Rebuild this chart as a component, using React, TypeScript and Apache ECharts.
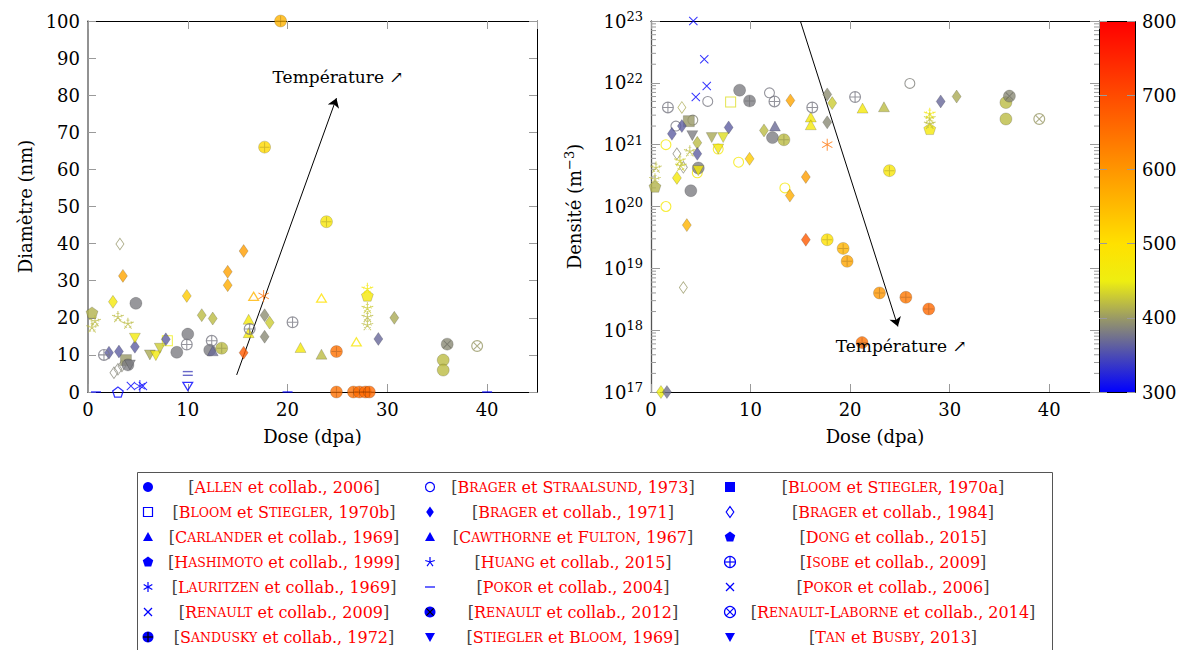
import React, { useEffect, useRef } from "react";
import * as echarts from "echarts";

const FONT = "DejaVu Serif";
type Pt = [number, number, number]; // [dose (dpa), value, temperature (°C)]

// ---------- colour scale (temperature, °C) ----------
const tempMin = 300;
const tempMax = 800;
const tempTicks = [300, 400, 500, 600, 700, 800];
const tempColors = ["#0000ff", "#4b4bb4", "#999966", "#eeee11", "#ffe100", "#ffbb00", "#ff9600", "#ff7000", "#ff4b00", "#ff2500", "#ff0000"];

// ---------- axes ----------
const doseMin = 0, doseMax = 45, doseStep = 10;
const diamMin = 0, diamMax = 100, diamStep = 10;
const densExpMin = 17, densExpMax = 23;

// ---------- Diameter panel (nm) ----------
const allenDiam: Pt[] = [[4.8, 23.9, 382], [10.0, 15.6, 382], [8.9, 10.7, 382], [12.2, 11.3, 382], [4.0, 7.3, 382], [35.6, 8.6, 420], [35.6, 5.9, 420]];
const renault2012Diam: Pt[] = [[36.0, 12.9, 390]];
const renaultLaborneDiam: Pt[] = [[39.0, 12.4, 400]];
const brager1971Diam: Pt[] = [[3.5, 31.3, 580], [2.5, 24.3, 470], [15.6, 38.0, 590], [14.0, 32.4, 585], [14.0, 28.8, 570], [9.9, 25.9, 530], [11.4, 20.7, 420], [12.5, 19.8, 420], [17.7, 20.7, 392], [18.2, 18.7, 430], [17.7, 14.9, 390], [15.6, 10.6, 680], [7.8, 14.2, 362], [4.7, 12.2, 362], [2.1, 10.6, 362], [3.1, 10.9, 362], [30.7, 20.0, 410], [29.1, 14.3, 368]];
const brager1984Diam: Pt[] = [[3.2, 39.9, 398], [2.6, 5.2, 388], [3.0, 6.1, 388], [3.4, 7.0, 388]];
const isobeDiam: Pt[] = [[16.2, 17.0, 380], [20.5, 18.8, 380], [9.9, 12.8, 380], [12.4, 13.8, 380], [1.6, 10.0, 380]];
const sanduskyDiam: Pt[] = [[19.3, 100, 560], [17.7, 66.0, 510], [23.9, 45.9, 480], [13.4, 11.8, 420], [24.9, 10.9, 650], [24.9, 0, 650], [26.6, 0, 650], [27.2, 0, 655], [27.8, 0, 660], [28.2, 0, 660]];
const triangleDiam: Pt[] = [[16.1, 16.0, 470], [16.1, 19.6, 470], [21.3, 12.0, 470], [12.5, 11.1, 370], [23.4, 10.2, 420]];
const openTriangleDiam: Pt[] = [[16.6, 25.9, 560], [23.4, 25.4, 500], [26.9, 13.6, 480]];
const openTriangleDownDiam: Pt[] = [[10.0, 1.4, 300]];
const triangleDownDiam: Pt[] = [[4.7, 14.5, 465], [6.2, 10.0, 410], [6.8, 9.8, 465], [7.2, 11.8, 430], [4.2, 7.3, 382]];
const bloomADiam: Pt[] = [[3.8, 8.6, 400]];
const bloomBDiam: Pt[] = [[7.95, 13.8, 450]];
const dongDiam: Pt[] = [[0.4, 21.4, 415], [28.0, 26.0, 470]];
const hashimotoDiam: Pt[] = [[3.0, 0, 300]];
const huangDiam: Pt[] = [[0.4, 17.5, 420], [0.7, 19.2, 420], [3.0, 20.3, 420], [4.0, 18.5, 420], [28.0, 27.9, 470], [28.0, 22.7, 430], [28.0, 20.3, 420], [28.0, 18.1, 420]];
const lauritzenDiam: Pt[] = [[17.6, 25.9, 650], [5.2, 1.6, 300]];
const crossDiam: Pt[] = [[4.3, 1.6, 300], [5.5, 1.6, 300]];
const pokor2004Diam: Pt[] = [[0.8, 0, 300], [20.0, 0, 300], [40.0, 0, 300], [10.0, 4.5, 345], [10.0, 5.5, 345]];

// ---------- Density panel (m^-3) ----------
const allenDens: Pt[] = [[8.9, 7.6e21, 382], [12.2, 1.3e21, 382], [4.75, 4.2e20, 382], [4.0, 1.8e20, 382], [35.65, 4.8e21, 420], [35.65, 2.6e21, 420]];
const renault2012Dens: Pt[] = [[36.0, 6.1e21, 390]];
const renaultLaborneDens: Pt[] = [[39.0, 2.6e21, 400]];
const bragerStraalsundDens: Pt[] = [[5.7, 5.0e21, 380], [11.9, 6.9e21, 380], [2.5, 2.0e21, 380], [4.2, 2.5e21, 388], [26.0, 9.8e21, 385], [1.5, 1.0e21, 470], [1.5, 1.0e20, 470], [8.8, 5.2e20, 470], [4.65, 3.5e20, 470], [13.45, 2.0e20, 470], [6.75, 8.5e20, 470]];
const bloomBDens: Pt[] = [[8.0, 4.9e21, 440]];
const bloomADens: Pt[] = [[3.8, 2.4e21, 400]];
const sanduskyDens: Pt[] = [[9.9, 5.1e21, 382], [13.35, 1.2e21, 420], [23.95, 3.8e20, 480], [17.7, 2.9e19, 500], [19.3, 2.1e19, 560], [19.7, 1.3e19, 580], [22.95, 4.0e18, 600], [25.6, 3.4e18, 640], [27.9, 2.2e18, 660], [21.2, 6.3e17, 650]];
const isobeDens: Pt[] = [[12.4, 5.0e21, 380], [16.2, 4.0e21, 380], [20.5, 5.9e21, 380], [1.7, 4.0e21, 380]];
const brager1971Dens: Pt[] = [[14.0, 5.2e21, 580], [17.7, 6.5e21, 392], [18.2, 4.7e21, 430], [17.7, 2.3e21, 390], [3.1, 2.0e21, 362], [2.1, 1.5e21, 362], [7.8, 1.9e21, 362], [11.35, 1.7e21, 420], [4.65, 1.07e21, 420], [4.65, 7.1e20, 362], [2.6, 2.9e20, 470], [9.9, 5.9e20, 530], [15.55, 3.0e20, 590], [13.95, 1.5e20, 570], [3.6, 5.0e19, 560], [15.55, 2.9e19, 680], [1.0, 1e17, 450], [1.6, 1e17, 375], [29.1, 5.0e21, 368], [30.7, 6.0e21, 410]];
const brager1984Dens: Pt[] = [[3.1, 4.0e21, 410], [2.6, 7.1e20, 388], [3.25, 4.3e20, 388], [3.25, 4.9e18, 400]];
const triangleDens: Pt[] = [[21.25, 3.9e21, 470], [16.05, 2.8e21, 470], [16.05, 2.1e21, 470], [12.45, 2.0e21, 370], [23.4, 4.1e21, 420]];
const triangleDownDens: Pt[] = [[4.15, 1.4e21, 382], [6.1, 1.3e21, 410], [7.25, 1.3e21, 440], [6.75, 8.5e20, 470], [4.75, 3.8e20, 470]];
const huangDens: Pt[] = [[3.9, 7.9e20, 420], [2.9, 5.6e20, 430], [3.0, 4.6e20, 430], [0.5, 4.3e20, 420], [0.4, 2.8e20, 420], [28.0, 3.2e21, 470], [28.0, 2.7e21, 430], [28.0, 2.2e21, 420]];
const dongDens: Pt[] = [[0.4, 2.1e20, 415], [28.0, 1.8e21, 470]];
const lauritzenDens: Pt[] = [[17.7, 1.0e21, 650]];
const crossDens: Pt[] = [[4.25, 1e23, 300], [5.35, 2.4e22, 300], [5.6, 8.9e21, 300], [4.5, 5.9e21, 300]];

// ---------- annotations ----------
const arrowDiam = [[14.9, 4.6], [24.9, 79.2]];
const arrowDens = [[15.0, 1e23], [24.8, 1.15e18]];
const labelDiam = [18.45, 84.9];
const labelDens = [18.5, 5.5e17];
const annotationText = "Température ↗";

// ---------- legend ----------
const legendAuthors = [
  ["Allen", "Bloom et Stiegler", "Carlander", "Hashimoto", "Lauritzen", "Renault", "Sandusky"],
  ["Brager et Straalsund", "Brager", "Cawthorne et Fulton", "Huang", "Pokor", "Renault", "Stiegler et Bloom"],
  ["Bloom et Stiegler", "Brager", "Dong", "Isobe", "Pokor", "Renault-Laborne", "Tan et Busby"],
];
const legendSuffix = [
  [" et collab., 2006", ", 1970b", " et collab., 1969", " et collab., 1999", " et collab., 1969", " et collab., 2009", " et collab., 1972"],
  [", 1973", " et collab., 1971", ", 1967", " et collab., 2015", " et collab., 2004", " et collab., 2012", ", 1969"],
  [", 1970a", " et collab., 1984", " et collab., 2015", " et collab., 2009", " et collab., 2006", " et collab., 2014", ", 2013"],
];
const legendIcons = [
  ["circle", "emptyRect", "triangle", "pentagon", "asterisk", "cross", "oplusFilled"],
  ["emptyCircle", "diamond", "triangle", "star", "dash", "otimesFilled", "triangleDown"],
  ["rect", "emptyDiamond", "pentagon", "oplusOpen", "cross", "otimesOpen", "triangleDown"],
];

// ---------- symbol paths ----------
function poly(pts: number[][]) {
  return "M" + pts.map((p) => p[0].toFixed(3) + "," + p[1].toFixed(3)).join("L") + "Z";
}
function regularPts(n: number, r: number, start: number) {
  const out: number[][] = [];
  for (let i = 0; i < n; i++) {
    const a = ((start + (360 / n) * i) * Math.PI) / 180;
    out.push([r * Math.cos(a), r * Math.sin(a)]);
  }
  return out;
}
function ring(pts: number[][], k: number) {
  const inner = pts.map(([x, y]) => [x * k, y * k]).reverse();
  return poly(pts) + poly(inner);
}
function bars(segs: number[][], w: number) {
  return segs
    .map(([x1, y1, x2, y2]) => {
      const dx = x2 - x1, dy = y2 - y1, L = Math.hypot(dx, dy);
      const nx = (-dy / L) * (w / 2), ny = (dx / L) * (w / 2);
      return poly([[x1 + nx, y1 + ny], [x2 + nx, y2 + ny], [x2 - nx, y2 - ny], [x1 - nx, y1 - ny]]);
    })
    .join("");
}
const circleRing = (r: number, ri: number) =>
  `M${-r},0A${r},${r} 0 1,0 ${r},0A${r},${r} 0 1,0 ${-r},0Z` +
  `M${-ri},0A${ri},${ri} 0 1,1 ${ri},0A${ri},${ri} 0 1,1 ${-ri},0Z`;

const SYM_OPEN_CIRCLE = "path://" + circleRing(10, 8);
const SYM_OPLUS_OPEN = "path://" + circleRing(10, 8) + bars([[-8.5, 0, 8.5, 0], [0, -8.5, 0, 8.5]], 1.8);
const SYM_OTIMES_OPEN = "path://" + circleRing(10, 8) + bars([[-6, -6, 6, 6], [-6, 6, 6, -6]], 1.8);
const SYM_PLUS = "path://" + bars([[-10, 0, 10, 0], [0, -10, 0, 10]], 2);
const SYM_TIMES = "path://" + bars([[-10, -10, 10, 10], [-10, 10, 10, -10]], 2.4);
const SYM_CROSS = "path://" + bars([[-10, -10, 10, 10], [-10, 10, 10, -10]], 2.4);
const SYM_OPEN_TRI = "path://" + ring(regularPts(3, 10, -90), 0.62);
const SYM_OPEN_DIAMOND = "path://" + ring([[0, -10], [7, 0], [0, 10], [-7, 0]], 0.78);
const SYM_OPEN_SQUARE = "path://" + ring([[-10, -10], [10, -10], [10, 10], [-10, 10]], 0.82);
const SYM_PENTAGON = "path://" + poly(regularPts(5, 10, -90));
const SYM_OPEN_PENTAGON = "path://" + ring(regularPts(5, 10, -90), 0.75);
const SYM_ASTERISK = "path://" + bars([0, 60, 120].map((a) => {
  const r = (a * Math.PI) / 180 + Math.PI / 2;
  return [-10 * Math.cos(r), -10 * Math.sin(r), 10 * Math.cos(r), 10 * Math.sin(r)];
}), 1.6);
const SYM_STAR = "path://" + bars(regularPts(5, 10, -90).map(([x, y]) => [0, 0, x, y]), 1.6) +
  bars(regularPts(5, 10, -90).map(([x, y]) => [x * 0.6 - y * 0.25, y * 0.6 + x * 0.25, x * 0.6 + y * 0.25, y * 0.6 - x * 0.25]), 1.2);

// ---------- series ----------
const series: any[] = [];
const vmSeries: number[] = [];
const FILLED_STYLE = { borderColor: "rgba(0,0,0,0.3)", borderWidth: 0.7 };

function addScatter(data: any[], panel: number, symbol: string, size: any, extra: any = {}, inVM = true) {
  if (!data.length) return;
  if (inVM) vmSeries.push(series.length);
  series.push({
    type: "scatter",
    xAxisIndex: panel === 0 ? 0 : 2,
    yAxisIndex: panel === 0 ? 0 : 2,
    data,
    symbol,
    symbolSize: size,
    clip: false,
    silent: true,
    ...extra,
  });
}

function addAll(panel: number, d: any) {
  addScatter(d.pokor2004, panel, "rect", [10, 1.4], { itemStyle: {} });
  addScatter(d.brager1984, panel, SYM_OPEN_DIAMOND, [9, 13]);
  addScatter(d.bragerStraalsund, panel, SYM_OPEN_CIRCLE, 11);
  addScatter(d.bloomB, panel, SYM_OPEN_SQUARE, 11);
  addScatter(d.bloomA, panel, "rect", 11, { itemStyle: FILLED_STYLE });
  addScatter(d.allen, panel, "circle", 12, { itemStyle: FILLED_STYLE });
  addScatter(d.renault2012, panel, "circle", 12, { itemStyle: FILLED_STYLE });
  addScatter(d.renault2012, panel, SYM_TIMES, 8, { itemStyle: { color: "rgba(0,0,0,0.3)" } }, false);
  addScatter(d.renaultLaborne, panel, SYM_OTIMES_OPEN, 12);
  addScatter(d.brager1971, panel, "diamond", [9, 13], { itemStyle: FILLED_STYLE });
  addScatter(d.triangle, panel, "triangle", [11, 10], { itemStyle: FILLED_STYLE });
  addScatter(d.triangleDown, panel, "triangle", [11, 10], { symbolRotate: 180, itemStyle: FILLED_STYLE });
  addScatter(d.openTriangle, panel, SYM_OPEN_TRI, [12, 10]);
  addScatter(d.openTriangleDown, panel, SYM_OPEN_TRI, [12, 10], { symbolRotate: 180 });
  addScatter(d.dong, panel, SYM_PENTAGON, 12, { symbolKeepAspect: true, itemStyle: FILLED_STYLE });
  addScatter(d.hashimoto, panel, SYM_OPEN_PENTAGON, 12, { symbolKeepAspect: true });
  addScatter(d.huang, panel, SYM_STAR, 12, { symbolKeepAspect: true });
  addScatter(d.lauritzen, panel, SYM_ASTERISK, 12, { symbolKeepAspect: true });
  addScatter(d.cross, panel, SYM_CROSS, 9, { symbolKeepAspect: true });
  addScatter(d.isobe, panel, SYM_OPLUS_OPEN, 12);
  addScatter(d.sandusky, panel, "circle", 12, { itemStyle: FILLED_STYLE });
  addScatter(d.sandusky, panel, SYM_PLUS, 10, { itemStyle: { color: "rgba(0,0,0,0.22)" } }, false);
}

addAll(0, {
  pokor2004: pokor2004Diam, brager1984: brager1984Diam, bragerStraalsund: [], bloomB: bloomBDiam, bloomA: bloomADiam,
  allen: allenDiam, renault2012: renault2012Diam, renaultLaborne: renaultLaborneDiam, brager1971: brager1971Diam,
  triangle: triangleDiam, triangleDown: triangleDownDiam, openTriangle: openTriangleDiam, openTriangleDown: openTriangleDownDiam,
  dong: dongDiam, hashimoto: hashimotoDiam, huang: huangDiam, lauritzen: lauritzenDiam, cross: crossDiam,
  isobe: isobeDiam, sandusky: sanduskyDiam,
});
addAll(1, {
  pokor2004: [], brager1984: brager1984Dens, bragerStraalsund: bragerStraalsundDens, bloomB: bloomBDens, bloomA: bloomADens,
  allen: allenDens, renault2012: renault2012Dens, renaultLaborne: renaultLaborneDens, brager1971: brager1971Dens,
  triangle: triangleDens, triangleDown: triangleDownDens, openTriangle: [], openTriangleDown: [],
  dong: dongDens, hashimoto: [], huang: huangDens, lauritzen: lauritzenDens, cross: crossDens,
  isobe: isobeDens, sandusky: sanduskyDens,
});

// arrows
series.push({
  type: "lines", coordinateSystem: "cartesian2d", xAxisIndex: 0, yAxisIndex: 0, silent: true,
  symbol: ["none", "arrow"], symbolSize: 9,
  lineStyle: { color: "#000", width: 1, opacity: 1 },
  data: [{ coords: arrowDiam }],
});
series.push({
  type: "lines", coordinateSystem: "cartesian2d", xAxisIndex: 2, yAxisIndex: 2, silent: true,
  symbol: ["none", "arrow"], symbolSize: 9,
  lineStyle: { color: "#000", width: 1, opacity: 1 },
  data: [{ coords: arrowDens }],
});
// annotation texts
[[0, labelDiam], [2, labelDens]].forEach(([ax, pt]: any) => {
  series.push({
    type: "scatter", xAxisIndex: ax, yAxisIndex: ax, silent: true, clip: false, z: 10,
    data: [pt], symbol: "circle", symbolSize: 1, itemStyle: { color: "rgba(0,0,0,0)" },
    label: { show: true, position: "right", distance: 0, formatter: annotationText, fontFamily: FONT, fontSize: 17, color: "#000", opacity: 1 },
  });
});
// log minor ticks (2..9 × 10^n) on both sides of the density panel
const minorTickVals: number[][] = [];
for (let e = densExpMin; e < densExpMax; e++) for (let m = 2; m <= 9; m++) minorTickVals.push([doseMin, m * Math.pow(10, e)]);
series.push({
  type: "custom", xAxisIndex: 2, yAxisIndex: 2, silent: true, clip: false, data: minorTickVals,
  renderItem: (params: any, api: any) => {
    const v = api.value(1);
    const p = api.coord([doseMin, v]);
    const q = api.coord([doseMax, v]);
    return {
      type: "group",
      children: [
        { type: "line", shape: { x1: p[0], y1: p[1], x2: p[0] + 5, y2: p[1] }, style: { stroke: "#9a9a9a", lineWidth: 1 } },
        { type: "line", shape: { x1: q[0] - 5, y1: q[1], x2: q[0], y2: q[1] }, style: { stroke: "#9a9a9a", lineWidth: 1 } },
      ],
    };
  },
});

// ---------- axis helpers ----------
const labelStyle = { fontFamily: FONT, fontSize: 18, color: "#000" };
const tickStyle = { inside: true, length: 8, lineStyle: { color: "#9a9a9a", width: 1 } };
const lineStyle = { show: true, lineStyle: { color: "#000", width: 1 } };

function doseAxis(grid: number, pos: string, labels: boolean) {
  return {
    type: "value", gridIndex: grid, position: pos, min: doseMin, max: doseMax, interval: doseStep,
    axisLine: { ...lineStyle, onZero: false }, axisTick: tickStyle, splitLine: { show: false },
    axisLabel: { show: labels, ...labelStyle, margin: 8, showMaxLabel: false },
    name: labels ? "Dose (dpa)" : "", nameLocation: "middle", nameGap: 35,
    nameTextStyle: { fontFamily: FONT, fontSize: 18, color: "#000" },
  };
}

// ---------- legend graphics ----------
const BLUE = "#0000ff";
function icon(kind: string, x: number, y: number): any[] {
  const f = { fill: BLUE };
  const st = { stroke: BLUE, fill: "none", lineWidth: 1.2 };
  const ln = (x1: number, y1: number, x2: number, y2: number, c = BLUE) => ({ type: "line", shape: { x1, y1, x2, y2 }, style: { stroke: c, lineWidth: 1.2 } });
  const pg = (pts: number[][], style: any) => ({ type: "polygon", shape: { points: pts }, style });
  switch (kind) {
    case "circle": return [{ type: "circle", shape: { cx: x, cy: y, r: 5 }, style: f }];
    case "emptyCircle": return [{ type: "circle", shape: { cx: x, cy: y, r: 4.5 }, style: st }];
    case "rect": return [{ type: "rect", shape: { x: x - 5, y: y - 5, width: 10, height: 10 }, style: f }];
    case "emptyRect": return [{ type: "rect", shape: { x: x - 4.5, y: y - 4.5, width: 9, height: 9 }, style: st }];
    case "diamond": return [pg([[x, y - 5.5], [x + 3.8, y], [x, y + 5.5], [x - 3.8, y]], f)];
    case "emptyDiamond": return [pg([[x, y - 5.5], [x + 3.8, y], [x, y + 5.5], [x - 3.8, y]], st)];
    case "triangle": return [pg([[x, y - 5], [x + 5, y + 4], [x - 5, y + 4]], f)];
    case "triangleDown": return [pg([[x - 5, y - 4], [x + 5, y - 4], [x, y + 5]], f)];
    case "pentagon": return [pg(regularPts(5, 5.5, -90).map(([a, b]) => [x + a, y + b]), f)];
    case "asterisk": return [0, 60, 120].map((a) => {
      const r = (a * Math.PI) / 180 + Math.PI / 2;
      return ln(x - 5 * Math.cos(r), y - 5 * Math.sin(r), x + 5 * Math.cos(r), y + 5 * Math.sin(r));
    });
    case "star": return regularPts(5, 5, -90).map(([a, b]) => ln(x, y, x + a, y + b));
    case "cross": return [ln(x - 4, y - 4, x + 4, y + 4), ln(x - 4, y + 4, x + 4, y - 4)];
    case "dash": return [ln(x - 5, y, x + 5, y)];
    case "oplusFilled": return [{ type: "circle", shape: { cx: x, cy: y, r: 5.5 }, style: f }, ln(x - 5, y, x + 5, y, "#000"), ln(x, y - 5, x, y + 5, "#000")];
    case "otimesFilled": return [{ type: "circle", shape: { cx: x, cy: y, r: 5.5 }, style: f }, ln(x - 3.6, y - 3.6, x + 3.6, y + 3.6, "#000"), ln(x - 3.6, y + 3.6, x + 3.6, y - 3.6, "#000")];
    case "oplusOpen": return [{ type: "circle", shape: { cx: x, cy: y, r: 5.5 }, style: st }, ln(x - 5.5, y, x + 5.5, y), ln(x, y - 5.5, x, y + 5.5)];
    case "otimesOpen": return [{ type: "circle", shape: { cx: x, cy: y, r: 5.5 }, style: st }, ln(x - 3.9, y - 3.9, x + 3.9, y + 3.9), ln(x - 3.9, y + 3.9, x + 3.9, y - 3.9)];
  }
  return [];
}
function smallCaps(author: string) {
  return author
    .split(" ")
    .map((w) => (w === "et" ? "{c| et }" : w.split("-").map((p) => `{c|${p[0]}}{s|${p.slice(1).toUpperCase()}}`).join("{c|-}")))
    .join("");
}
const legendIconX = [148, 430, 730];
const legendTextX = [284, 573, 893];
const legendRowY0 = 487, legendRowStep = 25;
const legendRich = {
  b: { fontFamily: FONT, fontSize: 16, color: "#444", lineHeight: 20 },
  c: { fontFamily: FONT, fontSize: 16, color: "#ff0000", lineHeight: 20 },
  s: { fontFamily: FONT, fontSize: 12.5, color: "#ff0000", lineHeight: 20 },
};
const legendTitles: any[] = [];
const graphicEls: any[] = [
  { type: "rect", shape: { x: 137.5, y: 472.5, width: 915, height: 200 }, style: { fill: "none", stroke: "#555", lineWidth: 1 }, silent: true },
];
legendAuthors.forEach((col, ci) =>
  col.forEach((a, ri) => {
    const y = legendRowY0 + ri * legendRowStep;
    icon(legendIcons[ci][ri], legendIconX[ci], y).forEach((el) => graphicEls.push({ ...el, silent: true }));
    legendTitles.push({
      text: `{b|[}${smallCaps(a)}{c|${legendSuffix[ci][ri]}}{b|]}`,
      left: legendTextX[ci], top: y - 10, padding: 0, textAlign: "center",
      textStyle: { fontFamily: FONT, fontSize: 16, color: "#ff0000", fontWeight: "normal", lineHeight: 20, rich: legendRich },
    });
  })
);
// colour bar
const cbX = 1099, cbY = 21, cbW = 36, cbH = 371;
graphicEls.push({
  type: "rect", z: 0, silent: true, shape: { x: cbX + 0.5, y: cbY + 0.5, width: cbW, height: cbH },
  style: {
    fill: new echarts.graphic.LinearGradient(0, 0, 0, 1, tempColors.map((c, i) => ({ offset: 1 - i / (tempColors.length - 1), color: c })).reverse()),
    stroke: "#000", lineWidth: 1,
  },
});

const option: any = {
  animation: false,
  backgroundColor: "#fff",
  textStyle: { fontFamily: FONT },
  title: legendTitles,
  grid: [
    { left: 88, top: 21, width: 449, height: 371 },
    { left: 651, top: 21, width: 448, height: 371 },
    { left: cbX, top: cbY, width: cbW, height: cbH },
  ],
  xAxis: [
    doseAxis(0, "bottom", true),
    doseAxis(0, "top", false),
    doseAxis(1, "bottom", true),
    doseAxis(1, "top", false),
    { type: "value", gridIndex: 2, show: false, min: 0, max: 1 },
  ],
  yAxis: [
    {
      type: "value", gridIndex: 0, position: "left", min: diamMin, max: diamMax, interval: diamStep,
      axisLine: { show: true, onZero: false, lineStyle: { color: "#777", width: 1.6 } }, axisTick: tickStyle, splitLine: { show: false },
      axisLabel: { ...labelStyle, margin: 8 },
      name: "Diamètre (nm)", nameLocation: "middle", nameGap: 54,
      nameTextStyle: { fontFamily: FONT, fontSize: 18, color: "#000" },
    },
    {
      type: "value", gridIndex: 0, position: "right", min: diamMin, max: diamMax, interval: diamStep,
      axisLine: { ...lineStyle, onZero: false }, axisTick: tickStyle, splitLine: { show: false }, axisLabel: { show: false },
    },
    {
      type: "log", logBase: 10, gridIndex: 1, position: "left", min: Math.pow(10, densExpMin), max: Math.pow(10, densExpMax), interval: 1,
      axisLine: { show: true, onZero: false, lineStyle: { color: "#555", width: 1.3 } }, axisTick: { ...tickStyle, length: 9 }, splitLine: { show: false },
      axisLabel: {
        ...labelStyle, margin: 8,
        formatter: (v: number) => `10{sup|${Math.round(Math.log10(v))}}`,
        rich: { sup: { fontFamily: FONT, fontSize: 13, verticalAlign: "top", padding: [0, 0, 9, 0] } },
      },
      name: "Densité (m{sup|−3})", nameLocation: "middle", nameGap: 66,
      nameTextStyle: { fontFamily: FONT, fontSize: 18, color: "#000", rich: { sup: { fontFamily: FONT, fontSize: 13, padding: [0, 0, 9, 0] } } },
    },
    {
      type: "log", logBase: 10, gridIndex: 1, position: "right", min: Math.pow(10, densExpMin), max: Math.pow(10, densExpMax), interval: 1,
      axisLine: { ...lineStyle, onZero: false }, axisTick: { ...tickStyle, length: 9 }, splitLine: { show: false }, axisLabel: { show: false },
    },
    {
      type: "value", gridIndex: 2, position: "left", min: tempMin, max: tempMax, interval: 100, z: 10,
      axisLine: { show: false }, axisTick: { ...tickStyle, length: 8 }, splitLine: { show: false }, axisLabel: { show: false },
    },
    {
      type: "value", gridIndex: 2, position: "right", min: tempMin, max: tempMax, interval: 100, z: 10,
      axisLine: { show: false }, axisTick: { ...tickStyle, length: 8 }, splitLine: { show: false },
      axisLabel: { ...labelStyle, margin: 7, formatter: (v: number) => (tempTicks.includes(v) ? String(v) : "") },
    },
  ],
  visualMap: {
    show: false, type: "continuous", min: tempMin, max: tempMax, dimension: 2,
    seriesIndex: vmSeries, inRange: { color: tempColors },
  },
  graphic: { elements: graphicEls },
  series,
};

export default function App() {
  const ref = useRef<HTMLDivElement>(null);
  useEffect(() => {
    const chart = echarts.init(ref.current as HTMLDivElement, null, { renderer: "svg" });
    chart.setOption(option);
    return () => chart.dispose();
  }, []);
  return <div ref={ref} style={{ position: "fixed", left: 0, top: 0, width: 1189, height: 650, background: "#fff" }} />;
}
